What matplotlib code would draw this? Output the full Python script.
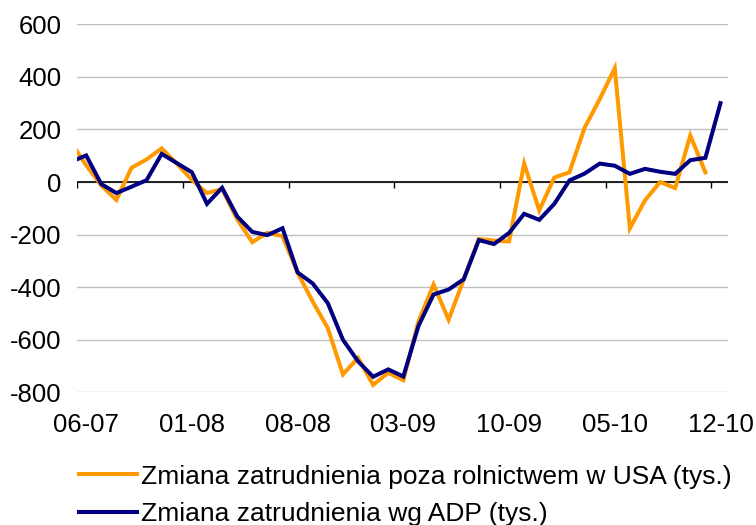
import numpy as np
import matplotlib
matplotlib.use("Agg")
import matplotlib.pyplot as plt
from matplotlib.lines import Line2D

plt.rcParams['font.family'] = ['Liberation Sans', 'DejaVu Sans']
plt.rcParams['axes.unicode_minus'] = False

# monthly data, May 2007 - Dec 2010 (first point lies just left of the axis)
months = ["05-07", "06-07", "07-07", "08-07", "09-07", "10-07", "11-07", "12-07",
          "01-08", "02-08", "03-08", "04-08", "05-08", "06-08", "07-08", "08-08",
          "09-08", "10-08", "11-08", "12-08", "01-09", "02-09", "03-09", "04-09",
          "05-09", "06-09", "07-09", "08-09", "09-09", "10-09", "11-09", "12-09",
          "01-10", "02-10", "03-10", "04-10", "05-10", "06-10", "07-10", "08-10",
          "09-10", "10-10", "11-10", "12-10"]

nfp = [150, 64, -13, -68, 54, 86, 128, 70,
       8, -42, -27, -142, -229, -193, -206, -345,
       -455, -556, -732, -669, -772, -726, -754, -531,
       -390, -524, -370, -217, -223, -226, 70, -108,
       17, 37, 206, 315, 433, -176, -70, 0,
       -23, 177, 37, np.nan]

adp = [77, 101, -8, -42, -18, 7, 107, 72,
       37, -83, -22, -131, -190, -202, -176, -344,
       -386, -461, -600, -682, -741, -713, -740, -548,
       -428, -409, -370, -221, -236, -194, -121, -144,
       -83, 6, 32, 70, 62, 31, 50, 39,
       31, 83, 92, 300]

label_nfp = "Zmiana zatrudnienia poza rolnictwem w USA (tys.)"
label_adp = "Zmiana zatrudnienia wg ADP (tys.)"

c_nfp = "#FF9900"
c_adp = "#000080"
fs = 18.5

x = np.arange(len(months)) - 1 + 0.6

fig = plt.figure(figsize=(7.56, 5.25), dpi=100)
ax = fig.add_axes([0.102, 0.2528, 0.861, 0.7009])

ax.plot(x, nfp, color=c_nfp, lw=2.9, solid_joinstyle='miter', zorder=3)
ax.plot(x, adp, color=c_adp, lw=2.9, solid_joinstyle='miter', zorder=4)

ax.set_xlim(0, 43.1)
ax.set_ylim(-800, 600)
ax.set_yticks(np.arange(-800, 601, 200))
ax.yaxis.grid(True, color="#c0c0c0", lw=1)
ax.set_axisbelow(True)
for s in ax.spines.values():
    s.set_visible(False)

# zero line with small tick marks
ax.axhline(0, color="black", lw=1.2, zorder=2)
tick_idx = np.arange(0, 43, 7)
ax.vlines(tick_idx, -24, 0, color="black", lw=1, zorder=2)

ax.set_xticks(tick_idx + 0.6)
ax.set_xticklabels([months[i + 1] for i in tick_idx])
ax.tick_params(axis='x', length=0, pad=15, labelsize=fs)
ax.tick_params(axis='y', length=0, pad=11, labelsize=fs)

handles = [Line2D([], [], color=c_nfp, lw=2.9), Line2D([], [], color=c_adp, lw=2.9)]
fig.legend(handles, [label_nfp, label_adp], loc="upper left",
           bbox_to_anchor=(0.104, 0.115), frameon=False, fontsize=19,
           handlelength=2.2, handletextpad=0.15, labelspacing=0.5,
           borderaxespad=0, borderpad=0)

fig.savefig("out.png", dpi=100)
